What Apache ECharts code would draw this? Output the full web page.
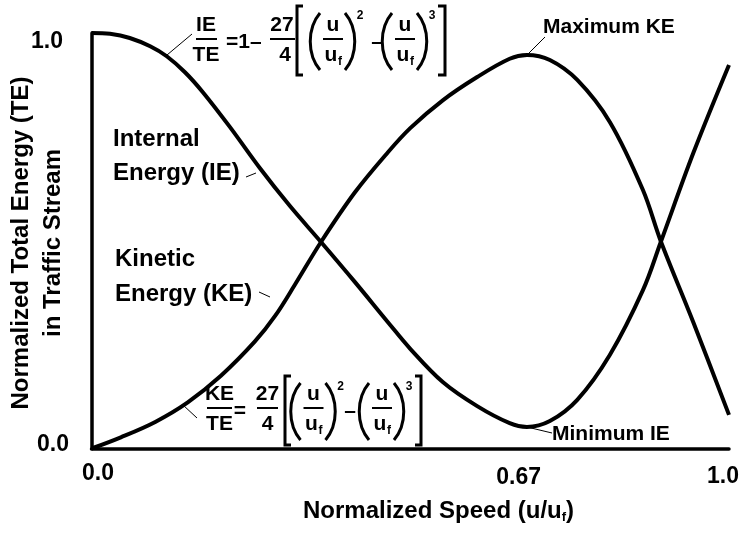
<!DOCTYPE html>
<html>
<head>
<meta charset="utf-8">
<script src="https://cdn.jsdelivr.net/npm/echarts@6/dist/echarts.min.js"></script>
<style>
  html, body { margin: 0; padding: 0; background: #fff; }
  #chart { width: 741px; height: 533px; }
</style>
</head>
<body>
<div id="chart"></div>
<script>
// Internal energy share IE/TE against normalized speed u/uf
const ieSpeed  = [0, 0.029, 0.060, 0.092, 0.118, 0.147, 0.175, 0.217, 0.264, 0.311, 0.360, 0.413, 0.465, 0.500, 0.551, 0.605, 0.656, 0.683, 0.719, 0.762, 0.813, 0.865, 0.893, 0.944, 1.0];
const ieValues = [1.000, 0.998, 0.988, 0.968, 0.944, 0.905, 0.857, 0.774, 0.675, 0.584, 0.497, 0.401, 0.304, 0.240, 0.160, 0.102, 0.061, 0.052, 0.066, 0.117, 0.225, 0.381, 0.497, 0.711, 0.923];

// Kinetic energy share KE/TE against normalized speed u/uf
const keSpeed  = [0, 0.046, 0.100, 0.151, 0.203, 0.256, 0.288, 0.319, 0.360, 0.413, 0.465, 0.500, 0.551, 0.605, 0.656, 0.683, 0.719, 0.762, 0.813, 0.865, 0.893, 0.944, 1.0];
const keValues = [0, 0.027, 0.064, 0.111, 0.175, 0.257, 0.319, 0.394, 0.497, 0.616, 0.713, 0.771, 0.838, 0.894, 0.938, 0.947, 0.935, 0.887, 0.786, 0.622, 0.499, 0.304, 0.081];

// Speed at which KE peaks and IE bottoms out
const peakSpeed = 0.683;

// Axis ticks
const xTickValues = [0, 0.67, 1];
const xTickLabels = ['0.0', '0.67', '1.0'];
const yTickValues = [0, 1];
const yTickLabels = ['0.0', '1.0'];

const FONT = '"Liberation Sans", Arial, Helvetica, sans-serif';
const BLACK = '#000';

function pairs(xs, ys) { return xs.map((x, i) => [x, ys[i]]); }

function txt(text, x, y, size, align) {
  const a = align || 'center';
  return {
    type: 'text', x: x, y: y, silent: true,
    style: {
      text: text, fill: BLACK,
      font: 'bold ' + size + 'px ' + FONT,
      align: a, verticalAlign: 'middle',
      textAlign: a, textVerticalAlign: 'middle'
    }
  };
}
function seg(x1, y1, x2, y2, w) {
  return { type: 'line', silent: true, shape: { x1, y1, x2, y2 }, style: { stroke: BLACK, lineWidth: w || 1 } };
}
function poly(points, w) {
  return { type: 'polyline', silent: true, shape: { points }, style: { stroke: BLACK, fill: null, lineWidth: w } };
}
// tall parenthesis drawn as a curve; dir = -1 opens right "(", +1 opens left ")"
function paren(x, top, bottom, dir) {
  const h = bottom - top;
  const cx = x + dir * 13;
  return {
    type: 'bezierCurve', silent: true,
    shape: { x1: x, y1: top, cpx1: cx, cpy1: top + h * 0.27, cpx2: cx, cpy2: top + h * 0.73, x2: x, y2: bottom },
    style: { stroke: BLACK, fill: null, lineWidth: 3 }
  };
}
// (u/uf)^p term
function term(cx, barY, numY, denY, parTop, parBot, supY, power) {
  return [
    paren(cx - 13, parTop, parBot, -1),
    txt('u', cx, numY, 21),
    seg(cx - 10, barY, cx + 10, barY, 2),
    txt('u', cx - 2, denY, 21),
    txt('f', cx + 5, denY + 6, 12, 'left'),
    paren(cx + 12, parTop, parBot, 1),
    txt(power, cx + 27, supY, 12)
  ];
}

// IE/TE = 1 - 27/4 [ (u/uf)^2 - (u/uf)^3 ]
const ieEquation = [].concat(
  [
    txt('IE', 206, 25.6, 21), seg(196, 39, 217, 39, 2), txt('TE', 206, 55.6, 21),
    txt('=1–', 226, 42, 21, 'left'),
    txt('27', 282, 25.6, 21), seg(270, 39, 295, 39, 2), txt('4', 285, 55.6, 21),
    poly([[303, 6], [297, 6], [297, 75], [303, 75]], 3),
    txt('–', 377, 42, 21),
    poly([[438, 6], [445, 6], [445, 75], [438, 75]], 3),
    seg(167, 55, 192, 34, 1)
  ],
  term(333, 39, 25.6, 55.6, 13, 70, 16, '2'),
  term(405, 39, 25.6, 55.6, 13, 70, 16, '3')
);

// KE/TE = 27/4 [ (u/uf)^2 - (u/uf)^3 ]
const keEquation = [].concat(
  [
    txt('KE', 219.5, 394.6, 21), seg(207, 408, 232, 408, 2), txt('TE', 219.5, 424.6, 21),
    txt('=', 240, 411, 21),
    txt('27', 267.5, 394.6, 21), seg(257, 408, 278, 408, 2), txt('4', 267.5, 424.6, 21),
    poly([[291, 376], [285, 376], [285, 445], [291, 445]], 3),
    txt('–', 350, 411, 21),
    poly([[415, 376], [421, 376], [421, 445], [415, 445]], 3),
    seg(183, 405, 197, 418, 1)
  ],
  term(313.5, 408, 394.6, 424.6, 383, 440, 387, '2'),
  term(382, 408, 394.6, 424.6, 383, 440, 387, '3')
);

const annotations = [
  txt('Internal', 113, 139.7, 24, 'left'),
  txt('Energy (IE)', 113, 173.7, 24, 'left'),
  seg(246, 177, 256, 173, 1),
  txt('Kinetic', 115, 259.7, 24, 'left'),
  txt('Energy (KE)', 115, 294.7, 24, 'left'),
  seg(259, 292, 270, 297, 1),
  txt('Maximum KE', 543, 27.7, 21, 'left'),
  seg(527, 55, 545, 37, 1),
  txt('Minimum IE', 552, 434.7, 21, 'left'),
  seg(527, 427, 552, 433, 1),
  {
    type: 'text', x: 303, y: 511.7, silent: true,
    style: {
      text: '{m|Normalized Speed (u/u}{s|f}{m|)}',
      align: 'left', verticalAlign: 'middle', textAlign: 'left', textVerticalAlign: 'middle',
      rich: {
        m: { fontSize: 24, fontWeight: 'bold', fontFamily: FONT, fill: BLACK, lineHeight: 24 },
        s: { fontSize: 13, fontWeight: 'bold', fontFamily: FONT, fill: BLACK, lineHeight: 11, verticalAlign: 'bottom' }
      }
    }
  },
  {
    type: 'text', x: 37, y: 243, rotation: Math.PI / 2, silent: true,
    style: {
      text: 'Normalized Total Energy (TE)\nin Traffic Stream',
      font: 'bold 24px ' + FONT, fill: BLACK, lineHeight: 32,
      align: 'center', verticalAlign: 'middle', textAlign: 'center', textVerticalAlign: 'middle'
    }
  }
];

const chart = echarts.init(document.getElementById('chart'), null, { renderer: 'canvas' });

const curveStyle = { color: BLACK, width: 4 };

chart.setOption({
  animation: false,
  backgroundColor: '#fff',
  grid: { left: 91.5, right: 12, top: 33, bottom: 84.5, containLabel: false, outerBoundsMode: 'none' },
  xAxis: {
    type: 'value', min: 0, max: 1,
    axisLine: { show: true, onZero: false, lineStyle: { color: BLACK, width: 3.5 } },
    axisTick: { show: false },
    splitLine: { show: false },
    axisLabel: {
      customValues: xTickValues,
      margin: 14,
      formatter: function (v) {
        const i = xTickValues.findIndex(t => Math.abs(t - v) < 1e-6);
        return '{t' + i + '|' + xTickLabels[i] + '}';
      },
      rich: {
        t0: { fontSize: 23, fontWeight: 'bold', fontFamily: FONT, color: BLACK, lineHeight: 23, padding: [0, 0, 0, 13] },
        t1: { fontSize: 23, fontWeight: 'bold', fontFamily: FONT, color: BLACK, lineHeight: 23, padding: [7, 0, 0, 0] },
        t2: { fontSize: 23, fontWeight: 'bold', fontFamily: FONT, color: BLACK, lineHeight: 23, padding: [5, 12, 0, 0] }
      }
    }
  },
  yAxis: {
    type: 'value', min: 0, max: 1,
    axisLine: { show: true, onZero: false, lineStyle: { color: BLACK, width: 3.5 } },
    axisTick: { show: false },
    splitLine: { show: false },
    axisLabel: {
      customValues: yTickValues,
      margin: 22.5,
      formatter: function (v) {
        const i = yTickValues.findIndex(t => Math.abs(t - v) < 1e-6);
        return '{t' + i + '|' + yTickLabels[i] + '}';
      },
      rich: {
        t0: { fontSize: 23, fontWeight: 'bold', fontFamily: FONT, color: BLACK, lineHeight: 23, padding: [0, 0, 7, 0] },
        t1: { fontSize: 23, fontWeight: 'bold', fontFamily: FONT, color: BLACK, lineHeight: 23, padding: [18, 6, 0, 0] }
      }
    }
  },
  series: [
    {
      name: 'Internal Energy (IE)', type: 'line',
      data: pairs(ieSpeed, ieValues),
      smooth: 0.35, showSymbol: false, clip: false,
      lineStyle: curveStyle, itemStyle: { color: BLACK }
    },
    {
      name: 'Kinetic Energy (KE)', type: 'line',
      data: pairs(keSpeed, keValues),
      smooth: 0.35, showSymbol: false, clip: false,
      lineStyle: curveStyle, itemStyle: { color: BLACK },
      markLine: {
        silent: true, symbol: 'none', animation: false,
        label: { show: false },
        lineStyle: { color: BLACK, width: 1, type: 'solid' },
        data: [[{ coord: [peakSpeed, 0] }, { coord: [peakSpeed, 1.02] }]]
      }
    }
  ],
  graphic: { elements: [].concat(ieEquation, keEquation, annotations) }
});
</script>
</body>
</html>
